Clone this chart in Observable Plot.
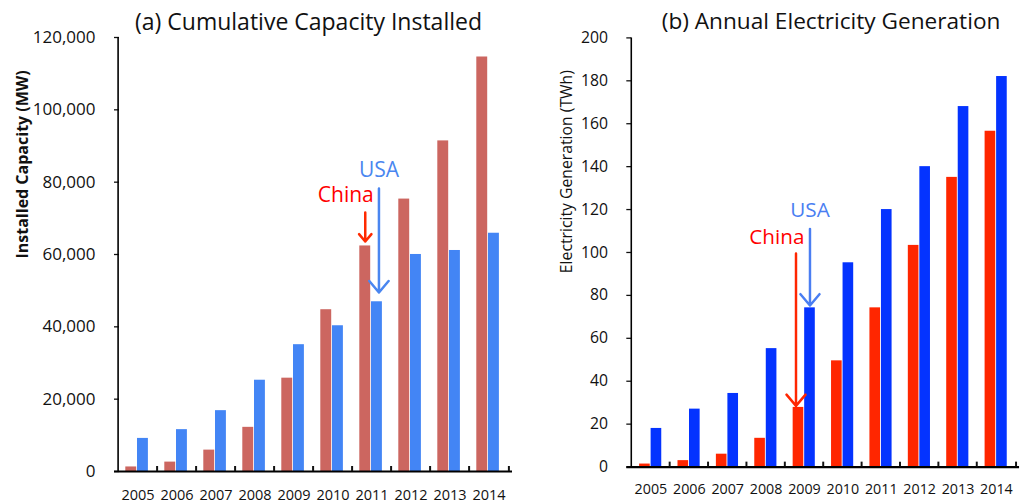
<!DOCTYPE html>
<html><head><meta charset="utf-8">
<script src="https://cdn.jsdelivr.net/npm/d3@7"></script>
<script src="https://cdn.jsdelivr.net/npm/@observablehq/plot@0.6"></script>
<style>
html,body{margin:0;padding:0;background:#fff;overflow:hidden;width:1022px;height:504px}
#wrap{position:relative;width:1022px;height:504px;overflow:hidden}
#a{position:absolute;left:0;top:0}
#b{position:absolute;left:520px;top:0}
svg{overflow:visible}
</style></head><body><div id="wrap"><div id="a"></div><div id="b"></div></div>
<script>
const years = ["2005","2006","2007","2008","2009","2010","2011","2012","2013","2014"];
const series = ["China","USA"];
// (a) Cumulative capacity installed, MW
const capChina = [1260,2599,5912,12210,25805,44733,62364,75324,91412,114609];
const capUSA = [9149,11575,16824,25237,35064,40298,46929,60007,61110,65879];
const capTicks = [0,20000,40000,60000,80000,100000,120000];
// (b) Annual electricity generation, TWh
const genChina = [1.4,3,6,13.4,27.8,49.5,74.2,103.3,135,156.5];
const genUSA = [18,27,34.3,55.2,74.2,95.2,120,140,168,182];
const genTicks = [0,20,40,60,80,100,120,140,160,180,200];
// annotations: [label, year, text value, arrow tail value, arrow tip value]
const capNotes = [
  {label:"China", year:"2011", text:76300, from:71600, to:63600},
  {label:"USA", year:"2011", text:83400, from:78250, to:49500}
];
const genNotes = [
  {label:"China", year:"2009", text:107, from:99.5, to:28.5},
  {label:"USA", year:"2009", text:119.5, from:111, to:75.3}
];

const FONT = "'Open Sans', sans-serif";

function panel(o) {
  const band = (o.width - o.ml - o.mr) / years.length;
  const gapL = o.gapL, bw = 11.7;
  const rows = [];
  years.forEach((y,i) => {
    rows.push({year:y, country:"China", value:o.china[i]});
    rows.push({year:y, country:"USA", value:o.usa[i]});
  });
  const cCenter = -band/2 + gapL + bw/2;
  const uCenter = -band/2 + gapL + bw*1.5;
  const noteC = o.notes.find(d => d.label === "China");
  const noteU = o.notes.find(d => d.label === "USA");
  return Plot.plot({
    width: o.width, height: 504,
    marginLeft: o.ml, marginRight: o.mr, marginTop: o.mt, marginBottom: o.mb,
    style: {fontFamily: FONT, fontSize: "16px", color: "#111", background: "transparent"},
    x: {type: "band", domain: years, padding: 0, axis: null},
    y: {domain: [0, o.max], axis: null},
    marks: [
      Plot.barY(rows.filter(d => d.country === "China"), {x:"year", y:"value", fill:o.cColor,
        insetLeft: gapL, insetRight: band - gapL - bw}),
      Plot.barY(rows.filter(d => d.country === "USA"), {x:"year", y:"value", fill:o.uColor,
        insetLeft: gapL + bw, insetRight: band - gapL - 2*bw}),
      Plot.axisY(o.ticks, {tickSize:0, tickPadding:19, tickFormat:o.fmt, label:null, fontSize:o.yFont}),
      Plot.axisY(o.ticks, {tickSize:5, dx:5, tickFormat:() => "", label:null, strokeWidth:1.3}),
      Plot.ruleX([years[0]], {x: d => d, y1: 0, y2: o.max, dx: -band/2, strokeWidth: 1.6, stroke:"#000"}),
      Plot.ruleY([0], {strokeWidth: 2.2, stroke:"#000"}),
      Plot.axisX(years.slice(1), {tickSize:5, dx:-band/2, dy:-5, tickFormat:() => "", label:null, strokeWidth:2}),
      Plot.axisX([years[years.length-1]], {tickSize:5, dx:band/2, dy:-5, tickFormat:() => "", label:null, strokeWidth:2}),
      Plot.axisX(years, {tickSize:0, tickPadding:o.xPad, label:null, fontSize:o.xFont}),
      Plot.text([o.title], {frameAnchor:"top", dy:o.titleDy, dx:o.titleDx, fontSize:23, lineAnchor:"middle", fill:"#111"}),
      Plot.text([o.ylabel], {frameAnchor:"left", rotate:-90, dx:o.ylx, dy:o.yly, fontSize:o.ylFont,
        fontWeight:o.ylBold ? "bold" : "normal", lineAnchor:"middle", fill:"#111"}),
      Plot.arrow([noteC], {x:"year", y1:"from", y2:"to", dx:cCenter + o.cArrowDx, stroke:o.cArrow,
        strokeWidth:2.5, headAngle:80, headLength:9}),
      Plot.arrow([noteU], {x:"year", y1:"from", y2:"to", dx:uCenter + o.uArrowDx, stroke:o.uText,
        strokeWidth:2.5, headAngle:80, headLength:9}),
      Plot.text([noteC], {x:"year", y:"text", text:"label", dx:cCenter + o.cTextDx, textAnchor:"end",
        fill:o.cText, fontSize:21, lineAnchor:"middle"}),
      Plot.text([noteU], {x:"year", y:"text", text:"label", dx:uCenter + o.uTextDx, textAnchor:"middle",
        fill:o.uText, fontSize:21, lineAnchor:"middle"})
    ]
  });
}

document.getElementById("a").append(panel({
  width:520, ml:114, mr:8, mt:37, mb:33, gapL:7.3, max:120000,
  china:capChina, usa:capUSA, ticks:capTicks, fmt:d3.format(","),
  cColor:"#cc6660", uColor:"#4385f5", cText:"#ff0000", cArrow:"#ff2a00", uText:"#4a86f0",
  notes:capNotes, title:"(a) Cumulative Capacity Installed", titleDx:-5, titleDy:-15,
  ylabel:"Installed Capacity (MW)", ylx:-92, yly:4, ylFont:16, ylBold:true,
  yFont:17, xFont:14.5, xPad:18.5,
  cArrowDx:0, uArrowDx:2, cTextDx:8.5, uTextDx:2
}));
document.getElementById("b").append(panel({
  width:510, ml:108, mr:3, mt:38, mb:30, gapL:8, max:200,
  china:genChina, usa:genUSA, ticks:genTicks, fmt:d3.format("d"),
  cColor:"#ff2600", uColor:"#0433ff", cText:"#ff0000", cArrow:"#ff2600", uText:"#4a7ef2",
  notes:genNotes, title:"(b) Annual Electricity Generation", titleDx:8, titleDy:-16,
  ylabel:"Electricity Generation (TWh)", ylx:-61, yly:21, ylFont:16, ylBold:false,
  yFont:16, xFont:14.5, xPad:17.5,
  cArrowDx:-2.5, uArrowDx:0, cTextDx:6, uTextDx:0
}));
</script></body></html>
